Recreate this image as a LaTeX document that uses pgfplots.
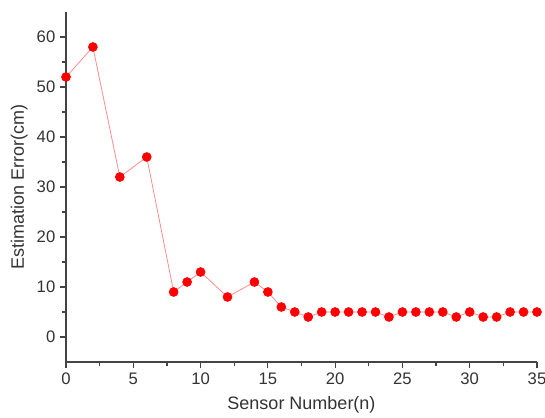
\documentclass[border=0pt]{standalone}
\usepackage{fontspec}
\setmainfont{Liberation Sans}
\usepackage{pgfplots}
\pgfplotsset{compat=1.18}
\definecolor{txt}{HTML}{333333}
\definecolor{ax}{HTML}{444444}
\begin{document}
\begin{tikzpicture}
\begin{axis}[
  scale only axis,
  width=353.25pt, height=262.5pt,
  xmin=0, xmax=35, ymin=-5, ymax=65,
  axis x line*=bottom, axis y line*=left,
  axis line style={ax, line width=1.1pt},
  xtick={0,5,...,35}, ytick={0,10,...,60},
  minor x tick num=1, minor y tick num=1,
  tick align=outside,
  major tick length=4.5pt, minor tick length=2.8pt,
  tick style={ax, line width=0.9pt},
  ticklabel style={font=\fontsize{12.5}{13}\selectfont, text=txt},
  /pgf/number format/assume math mode=true,
  xlabel={Sensor Number(n)}, ylabel={Estimation Error(cm)},
  label style={font=\fontsize{13.5}{14}\selectfont, text=txt},
  xlabel style={yshift=-2pt},
  clip=false,
]
\addplot[color=red!45, line width=0.6pt, mark=*, mark size=3.3pt,
  mark options={draw=red, fill=red}] coordinates {
  (0,52) (2,58) (4,32) (6,36) (8,9) (9,11) (10,13) (12,8) (14,11) (15,9)
  (16,6) (17,5) (18,4) (19,5) (20,5) (21,5) (22,5) (23,5) (24,4) (25,5)
  (26,5) (27,5) (28,5) (29,4) (30,5) (31,4) (32,4) (33,5) (34,5) (35,5)
};
\end{axis}
\pgfresetboundingbox
\useasboundingbox (-49.5pt,-41.25pt) rectangle (359.25pt,271.5pt);
\end{tikzpicture}
\end{document}
